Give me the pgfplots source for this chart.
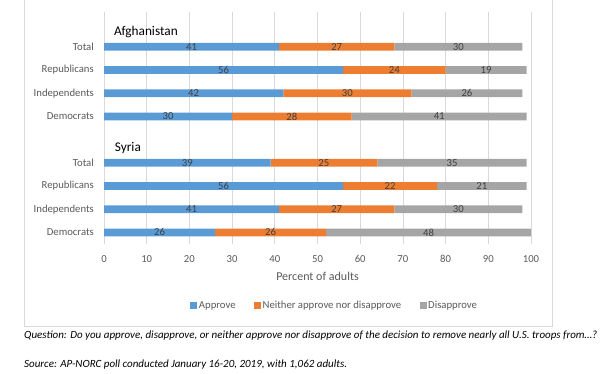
\documentclass[border=0pt]{standalone}
\usepackage{fontspec}
\setmainfont{Carlito}
\usepackage{pgfplots}
\usepackage{pgfplotstable}
\pgfplotsset{compat=1.18}
\definecolor{cBlue}{HTML}{5B9BD5}
\definecolor{cOrange}{HTML}{ED7D31}
\definecolor{cGray}{HTML}{A5A5A5}
\definecolor{cGrid}{HTML}{D9D9D9}
\definecolor{cTick}{HTML}{595959}
\definecolor{cLab}{HTML}{404040}

\pgfplotstableread{
y approve neither disapprove
1 41 27 30
2 56 24 19
3 42 30 26
4 30 28 41
6 39 25 35
7 56 22 21
8 41 27 30
9 26 26 48
}\datatable

\pgfplotstableread{
x y l
20.5 1 41
54.5 1 27
83 1 30
28 2 56
68 2 24
89.5 2 19
21 3 42
57 3 30
85 3 26
15 4 30
44 4 28
78.5 4 41
19.5 6 39
51.5 6 25
81.5 6 35
28 7 56
67 7 22
88.5 7 21
20.5 8 41
54.5 8 27
83 8 30
13 9 26
39 9 26
76 9 48
}\labeltable

\newcommand{\smallfont}{\fontsize{10.7}{12.8}\selectfont}
\newcommand{\notefont}{\fontsize{11}{13}\selectfont}

\begin{document}
\begin{tikzpicture}
\path[use as bounding box] (0pt,0pt) rectangle (612pt,374pt);
\draw[cGrid, line width=0.75pt] (24pt,48pt) rectangle (552pt,380pt);

\begin{axis}[
  at={(104pt,130pt)}, anchor=south west,
  scale only axis, width=427pt, height=232pt,
  xbar stacked, bar width=7.7pt,
  xmin=0, xmax=100, ymin=-0.5, ymax=9.5,
  y dir=reverse, enlargelimits=false,
  axis line style={draw=none},
  major tick length=0pt,
  xtick={0,10,...,100},
  ytick={1,2,3,4,6,7,8,9},
  yticklabels={Total,Republicans,Independents,Democrats,Total,Republicans,Independents,Democrats},
  xmajorgrids, grid style={cGrid, line width=0.75pt},
  /pgf/number format/assume math mode=true,
  tick label style={font=\smallfont, text=cTick},
  xticklabel style={anchor=center, inner sep=0pt, yshift=-15pt},
  yticklabel style={anchor=east, inner sep=0pt, xshift=-10pt},
  xlabel={Percent of adults},
  every axis x label/.style={at={(axis description cs:0.5,0)}, anchor=center, yshift=-32pt, font=\fontsize{12}{14}\selectfont, text=cTick},
  legend style={at={(axis description cs:0.5398,-0.267)}, anchor=center, draw=none, fill=none,
    legend columns=3, font=\smallfont, text=cTick, nodes={inner sep=1.5pt},
    /tikz/every even column/.append style={column sep=17pt}},
  legend image code/.code={\fill[#1] (0pt,-3.5pt) rectangle (7pt,3.5pt);},
]
\addplot[fill=cBlue, draw=none] table[x=approve, y=y] {\datatable};
\addlegendentry{Approve}
\addplot[fill=cOrange, draw=none] table[x=neither, y=y] {\datatable};
\addlegendentry{Neither approve nor disapprove}
\addplot[fill=cGray, draw=none] table[x=disapprove, y=y] {\datatable};
\addlegendentry{Disapprove}
\end{axis}

\begin{axis}[
  at={(104pt,130pt)}, anchor=south west,
  scale only axis, width=427pt, height=232pt,
  xmin=0, xmax=100, ymin=-0.5, ymax=9.5,
  y dir=reverse, enlargelimits=false,
  hide axis, clip=false,
]
\addplot[draw=none, mark=none, nodes near coords, point meta=explicit symbolic,
  every node near coord/.append style={anchor=center, font=\smallfont, text=cLab, inner sep=0pt}]
  table[x=x, y=y, meta=l] {\labeltable};
\node[anchor=west, inner sep=0pt, font=\fontsize{13.3}{15}\selectfont] at (axis cs:2.3,0.36) {Afghanistan};
\node[anchor=west, inner sep=0pt, font=\fontsize{13.3}{15}\selectfont] at (axis cs:2.5,5.36) {Syria};
\end{axis}

\node[anchor=west, inner sep=0pt, font=\notefont\itshape] at (24pt,38pt) {Question: Do you approve, disapprove, or neither approve nor disapprove of the decision to remove nearly all U.S. troops from…?};
\node[anchor=west, inner sep=0pt, font=\notefont\itshape] at (24pt,9pt) {Source: AP-NORC poll conducted January 16-20, 2019, with 1,062 adults.};
\end{tikzpicture}
\end{document}
